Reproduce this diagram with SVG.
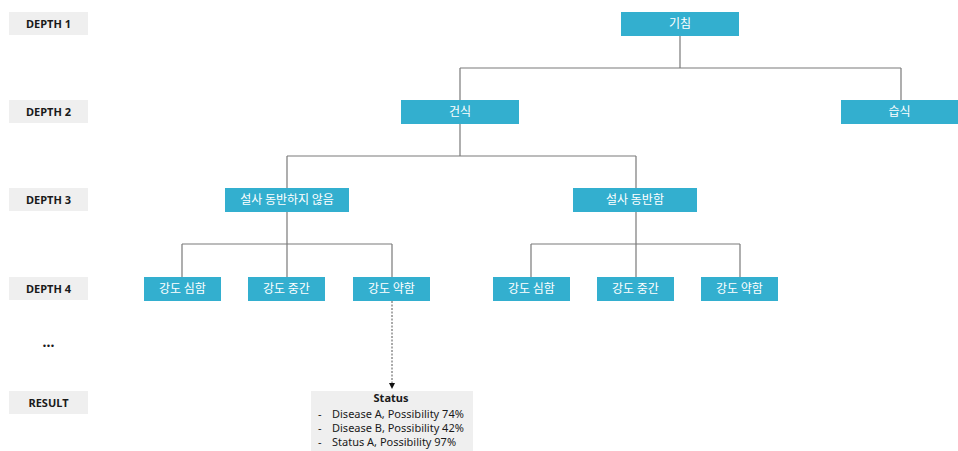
<svg xmlns="http://www.w3.org/2000/svg" width="958" height="451" viewBox="0 0 958 451">
<style>
.lb{fill:#efefef}
.lt{font-family:"Noto Sans","Noto Sans CJK KR",sans-serif;font-size:11px;font-weight:bold;fill:#1a1a1a;text-anchor:middle}
.nb{fill:#33afcf}
.nt{font-family:"Noto Sans CJK KR","Noto Sans",sans-serif;font-size:12px;fill:#ffffff;text-anchor:middle}
.cn{fill:none;stroke:#7a7a7a;stroke-width:1.2}
.rt{font-family:"Noto Sans","Noto Sans CJK KR",sans-serif;font-size:11px;fill:#1a1a1a}
</style>
<defs>
<marker id="ah" markerWidth="6" markerHeight="6" refX="5" refY="3" orient="auto" markerUnits="userSpaceOnUse">
<path d="M0,0 L6,3 L0,6 Z" fill="#111"/>
</marker>
</defs>
<rect width="958" height="451" fill="#ffffff"/>
<g id="labels">
<rect class="lb" x="9" y="12" width="79" height="23"/><text class="lt" x="48.5" y="27.5">DEPTH 1</text>
<rect class="lb" x="9" y="100" width="79" height="23"/><text class="lt" x="48.5" y="115.5">DEPTH 2</text>
<rect class="lb" x="9" y="188" width="79" height="23"/><text class="lt" x="48.5" y="203.5">DEPTH 3</text>
<rect class="lb" x="9" y="277" width="79" height="23"/><text class="lt" x="48.5" y="292.5">DEPTH 4</text>
<text class="lt" x="48.5" y="347" style="font-size:14px">...</text>
<rect class="lb" x="9" y="391" width="79" height="23"/><text class="lt" x="48.5" y="406.5">RESULT</text>
</g>
<g id="connectors">
<path class="cn" d="M680,36 V68 M460,68 H901 M460,68 V100 M901,68 V100"/>
<path class="cn" d="M460,124 V156 M287,156 H636 M287,156 V188 M636,156 V188"/>
<path class="cn" d="M287,212 V244 M182,244 H392 M182,244 V277 M287,244 V277 M392,244 V277"/>
<path class="cn" d="M636,212 V244 M531,244 H740 M531,244 V277 M636,244 V277 M740,244 V277"/>
<path d="M392,301 V388" fill="none" stroke="#555" stroke-width="1" stroke-dasharray="2,1.5" marker-end="url(#ah)"/>
</g>
<g id="n-cough"><rect class="nb" x="621" y="12" width="118" height="24"/><text class="nt" x="680" y="28">기침</text></g>
<g id="n-dry"><rect class="nb" x="401" y="100" width="118" height="24"/><text class="nt" x="460" y="116">건식</text></g>
<g id="n-wet"><rect class="nb" x="841" y="100" width="117" height="24"/><text class="nt" x="899.5" y="116">습식</text></g>
<g id="n-nodiarrhea"><rect class="nb" x="225" y="188" width="124" height="24"/><text class="nt" x="287" y="204">설사 동반하지 않음</text></g>
<g id="n-diarrhea"><rect class="nb" x="573" y="188" width="124" height="24"/><text class="nt" x="635" y="204">설사 동반함</text></g>
<g id="n-l-severe"><rect class="nb" x="144" y="277" width="77" height="24"/><text class="nt" x="182.5" y="293">강도 심함</text></g>
<g id="n-l-mid"><rect class="nb" x="248" y="277" width="77" height="24"/><text class="nt" x="286.5" y="293">강도 중간</text></g>
<g id="n-l-weak"><rect class="nb" x="353" y="277" width="77" height="24"/><text class="nt" x="391.5" y="293">강도 약함</text></g>
<g id="n-r-severe"><rect class="nb" x="493" y="277" width="77" height="24"/><text class="nt" x="531.5" y="293">강도 심함</text></g>
<g id="n-r-mid"><rect class="nb" x="597" y="277" width="77" height="24"/><text class="nt" x="635.5" y="293">강도 중간</text></g>
<g id="n-r-weak"><rect class="nb" x="701" y="277" width="77" height="24"/><text class="nt" x="739.5" y="293">강도 약함</text></g>
<g id="n-result">
<rect class="lb" x="311" y="391" width="162" height="60"/>
<text class="rt" x="391" y="402" text-anchor="middle" font-weight="bold">Status</text>
<text class="rt" x="318" y="417.5">-</text><text class="rt" x="332" y="417.5">Disease A, Possibility 74%</text>
<text class="rt" x="318" y="431.5">-</text><text class="rt" x="332" y="431.5">Disease B, Possibility 42%</text>
<text class="rt" x="318" y="445.5">-</text><text class="rt" x="332" y="445.5">Status A, Possibility 97%</text>
</g>
</svg>
